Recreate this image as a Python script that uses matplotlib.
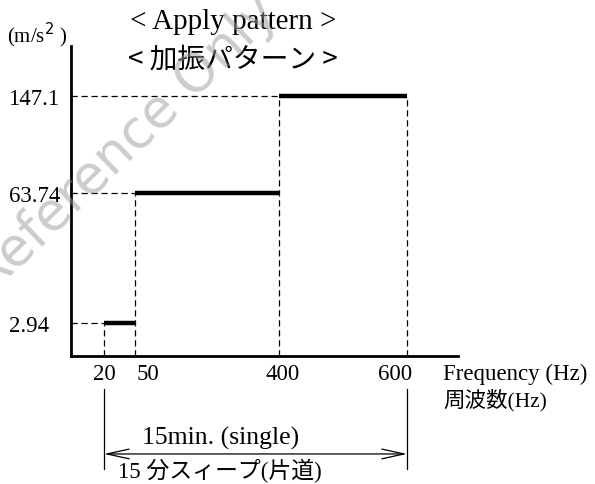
import numpy as np
import matplotlib
matplotlib.use('Agg')
import matplotlib.pyplot as plt
from matplotlib import transforms

SERIF = ['Liberation Serif', 'Noto Sans CJK JP']
CJK = ['Noto Sans CJK JP', 'Liberation Serif']

# vibration pattern (schematic)
freq = [20, 50, 400, 600]               # Hz
accel = [2.94, 63.74, 147.1]            # m/s^2, one level per band
freq_labels = ['20', '50', '400', '600']
accel_labels = ['2.94', '63.74', '147.1']

# schematic (non-linear) axis spacing
x_vals = [0, 20, 50, 400, 600, 700]
x_pos = [0, 33, 64, 208, 336, 387]
y_vals = [0, 2.94, 63.74, 147.1, 170]
y_pos = [0, 33, 163, 260, 310]
label_shift = [0, 13, 4, -12]    # px, the labels are not quite centred


def fx(v):
    return np.interp(v, x_vals, x_pos)


def ix(v):
    return np.interp(v, x_pos, x_vals)


def fy(v):
    return np.interp(v, y_vals, y_pos)


def iy(v):
    return np.interp(v, y_pos, y_vals)


fig = plt.figure(figsize=(5.95, 4.85), dpi=100)
ax = fig.add_axes([71/595, (485-357)/485, 387/595, 310/485])
ax.set_xscale('function', functions=(fx, ix))
ax.set_yscale('function', functions=(fy, iy))
ax.set_xlim(0, 700)
ax.set_ylim(0, 170)

for s in ['top', 'right']:
    ax.spines[s].set_visible(False)
ax.spines['left'].set_linewidth(2)
ax.spines['bottom'].set_linewidth(2)

dash = dict(color='black', lw=0.9, ls=(0, (5, 3)))

# level segments + dashed guides
for i in range(len(accel)):
    ax.plot([freq[i], freq[i+1]], [accel[i], accel[i]], color='black', lw=3.2,
            solid_capstyle='butt', zorder=3)
    ax.plot([0, freq[i]], [accel[i], accel[i]], **dash)
    ax.plot([freq[i], freq[i]], [0, accel[i]], **dash)
ax.plot([freq[-1], freq[-1]], [0, accel[-1]], **dash)

ax.set_xticks(freq)
ax.set_xticklabels(freq_labels, family=SERIF, fontsize=16.5)
ax.set_yticks(accel)
ax.set_yticklabels(accel_labels, family=SERIF, fontsize=16.5)
ax.tick_params(axis='x', length=0, pad=5)
ax.tick_params(axis='y', length=0, pad=45)
for lab in ax.get_yticklabels():
    lab.set_ha('left')
for lab, dx in zip(ax.get_xticklabels(), label_shift):
    lab.set_transform(lab.get_transform() +
                      transforms.ScaledTranslation(dx/100, 0, fig.dpi_scale_trans))
ax.xaxis.set_minor_locator(matplotlib.ticker.NullLocator())
ax.yaxis.set_minor_locator(matplotlib.ticker.NullLocator())

# unit / axis titles
fig.text(7/595, 1-35/485, '(m/s$^2$ )', family=SERIF, fontsize=15, va='center')
fig.text(443/595, 1-374/485, 'Frequency (Hz)', family=SERIF, fontsize=16.5,
         va='center')
fig.text(443/595, 1-400/485, '周波数(Hz)', family=SERIF, fontsize=15.5,
         va='center')

fig.text(233/595, 1-22/485, '< Apply pattern >', family=SERIF, fontsize=21,
         ha='center', va='center')
fig.text(233/595, 1-60/485, '< 加振パターン >', family=CJK, fontsize=20,
         ha='center', va='center')

# sweep dimension below the axis
tr = transforms.blended_transform_factory(ax.transData, ax.transAxes)
for f in [freq[0], freq[-1]]:
    ax.plot([f, f], [-0.106, -0.365], color='black', lw=0.9, transform=tr,
            clip_on=False)
ax.annotate('', xy=(freq[0], -0.316), xytext=(freq[-1], -0.316),
            xycoords=tr, textcoords=tr,
            arrowprops=dict(arrowstyle='<->,head_length=1.6,head_width=0.35',
                            color='black', lw=0.9, shrinkA=0, shrinkB=0))
ax.text(257, -0.262, '15min. (single)', family=SERIF, fontsize=18.5,
        ha='center', va='center', transform=tr)
ax.text(257, -0.368, '15 分スィープ(片道)', family=SERIF, fontsize=16.5,
        ha='center', va='center', transform=tr)

# watermark
fig.text(125/595, 1-145/485, 'Reference Only', fontsize=38, color='#9a9a9a',
         alpha=0.5, rotation=44, ha='center', va='center', family='DejaVu Sans')

fig.savefig('out.png', dpi=100)
